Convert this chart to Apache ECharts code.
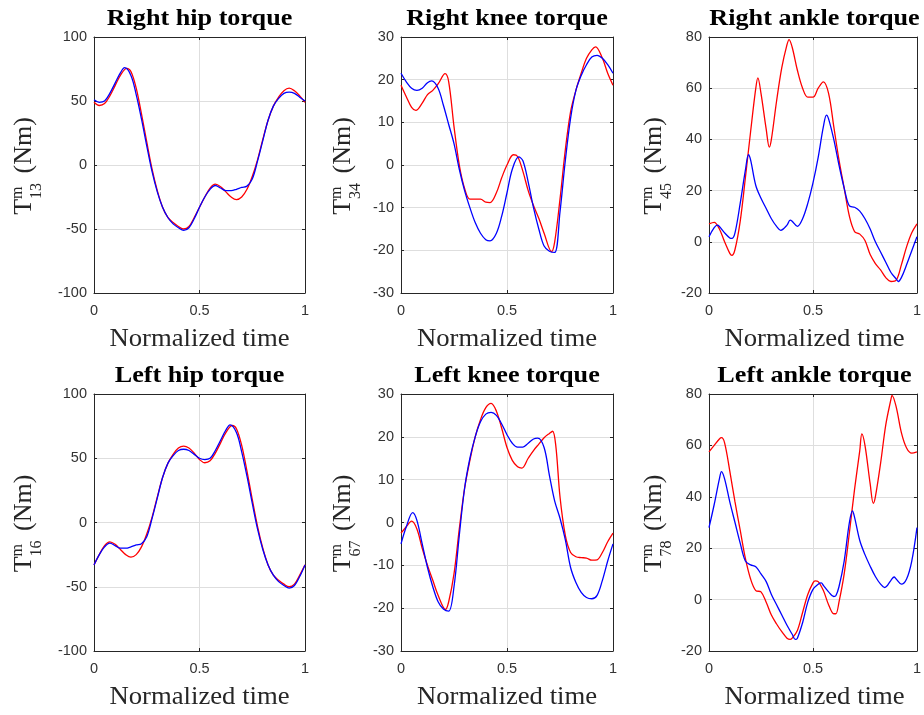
<!DOCTYPE html>
<html><head><meta charset="utf-8">
<script src="https://cdn.jsdelivr.net/npm/echarts@6/dist/echarts.min.js"></script>
<style>html,body{margin:0;padding:0;background:#fff}#c{width:924px;height:715px}</style>
</head><body><div id="c"></div>
<script>
// ---------- data ----------
const titles = ['Right hip torque', 'Right knee torque', 'Right ankle torque', 'Left hip torque', 'Left knee torque', 'Left ankle torque'];
const jointSubscripts = ['13', '34', '45', '16', '67', '78'];
const xAxisTitle = 'Normalized time';
const xTickValues = [0, 0.5, 1];
const yMins = [-100, -30, -20, -100, -30, -20];
const yMaxs = [100, 30, 80, 100, 30, 80];
const yIntervals = [50, 10, 20, 50, 10, 20];

const rightHipRed = [[0,49],[0.025,46.5],[0.05,48],[0.075,54],[0.1,62],[0.125,70],[0.155,75.5],[0.175,73],[0.2,60],[0.225,40],[0.25,18],[0.275,-3],[0.3,-20],[0.325,-33],[0.35,-41],[0.375,-45],[0.4,-48],[0.425,-50],[0.45,-48],[0.475,-41],[0.5,-33],[0.525,-25],[0.55,-18],[0.575,-15],[0.6,-17],[0.625,-21],[0.65,-25],[0.675,-27],[0.7,-25],[0.725,-19],[0.75,-9],[0.775,4],[0.8,20],[0.825,35],[0.85,46],[0.875,53],[0.9,58],[0.925,60],[0.95,58],[0.975,54],[1,49]];
const rightHipBlue = [[0,51],[0.025,49],[0.05,50],[0.075,56],[0.1,64],[0.125,72],[0.145,76],[0.175,70],[0.2,55],[0.225,36],[0.25,15],[0.275,-5],[0.3,-21],[0.325,-33],[0.35,-41],[0.375,-46],[0.4,-49],[0.425,-51],[0.45,-49],[0.475,-42],[0.5,-33],[0.525,-25],[0.55,-19],[0.575,-16],[0.6,-18],[0.625,-20],[0.65,-20],[0.675,-19],[0.7,-17.5],[0.725,-16.5],[0.75,-11],[0.775,3],[0.8,19],[0.825,35],[0.85,46],[0.875,52],[0.9,56],[0.925,57],[0.95,56],[0.975,53],[1,50]];

const rightKneeRed = [[0,18.7],[0.025,16],[0.05,13.5],[0.07,12.8],[0.1,14.5],[0.125,16.5],[0.15,17.5],[0.175,19],[0.208,21.4],[0.225,19.5],[0.25,9],[0.275,0],[0.3,-5.5],[0.325,-8],[0.35,-8],[0.375,-8],[0.4,-8.7],[0.42,-8.8],[0.45,-6.5],[0.475,-3],[0.5,0],[0.53,2.4],[0.55,2],[0.575,-1.5],[0.6,-6],[0.625,-9.5],[0.65,-12.5],[0.675,-16],[0.71,-20.3],[0.725,-18],[0.75,-8],[0.775,3.5],[0.8,12.5],[0.825,17.5],[0.85,21.5],[0.875,25],[0.9,27],[0.918,27.7],[0.95,25],[0.975,21.5],[1,18.7]];
const rightKneeBlue = [[0,21.5],[0.025,19.5],[0.05,18],[0.075,17.5],[0.1,18],[0.125,19.3],[0.145,19.7],[0.175,18],[0.2,14],[0.225,9.5],[0.25,5],[0.275,-1],[0.3,-6],[0.325,-10],[0.35,-13.5],[0.375,-16],[0.4,-17.5],[0.42,-17.8],[0.45,-16],[0.475,-12],[0.5,-6.5],[0.525,-1],[0.555,1.9],[0.575,1],[0.6,-4],[0.625,-10],[0.65,-15],[0.675,-19],[0.7,-20.2],[0.725,-20.5],[0.75,-11],[0.775,1],[0.8,11],[0.825,17.5],[0.85,21],[0.875,23.5],[0.9,25.3],[0.925,25.7],[0.95,25],[0.975,23.5],[1,21.5]];

const rightAnkleRed = [[0,7],[0.025,7.6],[0.05,5],[0.075,0],[0.1,-4.5],[0.11,-5.3],[0.125,-3],[0.15,8],[0.175,25],[0.2,43],[0.225,60],[0.235,64],[0.25,58],[0.275,44],[0.29,37],[0.3,40],[0.325,55],[0.35,68],[0.375,77],[0.385,79],[0.4,76],[0.425,67],[0.45,60],[0.475,56.5],[0.5,56.5],[0.525,60],[0.55,62.5],[0.575,58],[0.6,45],[0.625,32],[0.65,21],[0.675,10],[0.7,4],[0.725,3],[0.75,0.5],[0.775,-5],[0.8,-8.5],[0.825,-11],[0.85,-14],[0.875,-15.5],[0.9,-15],[0.925,-9],[0.95,-2],[0.975,3.5],[1,7]];
const rightAnkleBlue = [[0,2],[0.025,5.5],[0.04,6.5],[0.05,6],[0.075,3.5],[0.1,1.5],[0.11,1.3],[0.125,3.5],[0.15,15],[0.175,28],[0.19,34],[0.2,32],[0.225,22],[0.25,17],[0.275,13],[0.3,9],[0.325,6],[0.345,4.5],[0.375,6.5],[0.39,8.5],[0.4,8],[0.425,6],[0.45,9],[0.475,15],[0.5,23],[0.525,33],[0.55,45],[0.565,49.5],[0.575,48],[0.6,40],[0.625,30],[0.65,21],[0.675,14],[0.7,13.5],[0.725,12],[0.75,9],[0.775,5],[0.8,0],[0.825,-4],[0.85,-8],[0.875,-12],[0.9,-14.5],[0.91,-15.5],[0.925,-14],[0.95,-9],[0.975,-3.5],[1,2]];

const leftHipRed = [[0,-33],[0.025,-25],[0.05,-18],[0.075,-15],[0.1,-17],[0.125,-21],[0.15,-25],[0.175,-27],[0.2,-25],[0.225,-19],[0.25,-9],[0.275,4],[0.3,20],[0.325,35],[0.35,46],[0.375,53],[0.4,58],[0.425,59.5],[0.45,58],[0.475,54],[0.5,49],[0.525,46.5],[0.55,48],[0.575,54],[0.6,62],[0.625,70],[0.655,75.5],[0.675,73],[0.7,60],[0.725,40],[0.75,18],[0.775,-3],[0.8,-20],[0.825,-33],[0.85,-41],[0.875,-45],[0.9,-48],[0.925,-50],[0.95,-48],[0.975,-41],[1,-33]];
const leftHipBlue = [[0,-33],[0.025,-25],[0.05,-19],[0.075,-16],[0.1,-18],[0.125,-20],[0.15,-20],[0.175,-19],[0.2,-17.5],[0.225,-16.5],[0.25,-11],[0.275,3],[0.3,19],[0.325,35],[0.35,46],[0.375,52],[0.4,56],[0.425,57],[0.45,56],[0.475,53],[0.5,50],[0.525,49],[0.55,50],[0.575,56],[0.6,64],[0.625,72],[0.645,76],[0.675,70],[0.7,55],[0.725,36],[0.75,15],[0.775,-5],[0.8,-21],[0.825,-33],[0.85,-41],[0.875,-46],[0.9,-49],[0.925,-51],[0.95,-49],[0.975,-42],[1,-33]];

const leftKneeRed = [[0,-2.5],[0.025,-1],[0.05,0.3],[0.075,-1.5],[0.1,-6],[0.125,-10],[0.15,-13.5],[0.175,-17],[0.21,-20.3],[0.225,-18.5],[0.25,-12],[0.275,-1.5],[0.3,8],[0.325,14.5],[0.35,20],[0.375,24],[0.4,26.8],[0.425,27.8],[0.45,26],[0.475,22],[0.5,17.5],[0.525,14.5],[0.55,13],[0.57,12.7],[0.6,15],[0.625,16.8],[0.65,18.3],[0.675,19.8],[0.7,20.8],[0.715,21.3],[0.73,18],[0.75,6],[0.775,-3],[0.8,-7],[0.825,-8],[0.85,-8.2],[0.875,-8.3],[0.9,-8.8],[0.925,-8.7],[0.95,-7],[0.975,-4.5],[1,-2.5]];
const leftKneeBlue = [[0,-5],[0.025,-1],[0.055,2.3],[0.075,0.5],[0.1,-5],[0.125,-10.5],[0.15,-15],[0.175,-18.5],[0.2,-20.2],[0.225,-20.7],[0.25,-15],[0.275,-3],[0.3,8],[0.325,15],[0.35,20],[0.375,23.5],[0.4,25.3],[0.425,25.7],[0.45,25],[0.475,23],[0.5,20.5],[0.525,18.5],[0.55,17.6],[0.575,17.6],[0.6,18.5],[0.625,19.5],[0.645,19.7],[0.675,17.5],[0.7,11],[0.725,5],[0.75,1],[0.775,-4],[0.8,-10.5],[0.825,-14],[0.85,-16.3],[0.875,-17.5],[0.9,-17.8],[0.925,-17],[0.95,-13.5],[0.975,-9],[1,-5]];

const leftAnkleRed = [[0,57.5],[0.025,60],[0.05,62.5],[0.06,63],[0.075,61],[0.1,50],[0.125,38],[0.15,27],[0.175,16],[0.2,8],[0.225,3.5],[0.25,3],[0.275,-1],[0.3,-6],[0.325,-9.5],[0.35,-12.5],[0.375,-15],[0.39,-15.5],[0.4,-15],[0.425,-12],[0.45,-5],[0.475,2],[0.5,6.5],[0.51,7.3],[0.525,7],[0.55,3.5],[0.575,-2],[0.6,-5.5],[0.61,-5.5],[0.625,-1],[0.65,10],[0.675,26],[0.7,43],[0.725,58],[0.735,64.5],[0.75,60],[0.775,45],[0.79,37.5],[0.8,40],[0.825,53],[0.85,68],[0.875,78],[0.88,79.5],[0.9,75],[0.925,65],[0.95,59],[0.975,57],[1,57.5]];
const leftAnkleBlue = [[0,28],[0.025,37],[0.05,47],[0.06,49.8],[0.075,47],[0.1,38],[0.125,30],[0.15,22],[0.175,15],[0.2,13.5],[0.225,12.8],[0.25,10],[0.275,7],[0.3,2],[0.325,-2],[0.35,-6],[0.375,-10],[0.4,-13.5],[0.415,-15.5],[0.425,-15],[0.45,-9],[0.475,-1],[0.5,4],[0.525,6],[0.54,6.5],[0.55,5.5],[0.575,3],[0.6,1.2],[0.61,1.5],[0.625,5],[0.65,15],[0.675,30],[0.69,34.5],[0.7,32],[0.725,23],[0.75,17.5],[0.775,13],[0.8,9],[0.825,6],[0.845,4.7],[0.875,7.5],[0.89,8.8],[0.9,8],[0.925,6],[0.95,8],[0.975,15],[1,28]];

const redSeries = [rightHipRed, rightKneeRed, rightAnkleRed, leftHipRed, leftKneeRed, leftAnkleRed];
const blueSeries = [rightHipBlue, rightKneeBlue, rightAnkleBlue, leftHipBlue, leftKneeBlue, leftAnkleBlue];

// ---------- layout ----------
const colLeft = [94, 401, 709];
const colWidth = [211, 212, 211];
const rowTop = [37, 394];
const rowHeight = [256, 257];
const yLabelOffset = [70, 58, 55];
const AX = '#262626';
const GRID = '#dedede';
const SERIF = "'Liberation Serif','Times New Roman',serif";
const SANS = "'Liberation Sans',Arial,Helvetica,sans-serif";

const chart = echarts.init(document.getElementById('c'), null, {renderer: 'canvas'});
const grids = [], xAxes = [], yAxes = [], series = [], graphics = [];

for (let i = 0; i < 6; i++) {
  const r = Math.floor(i / 3), c = i % 3;
  const L = colLeft[c], T = rowTop[r], W = colWidth[c], H = rowHeight[r];
  grids.push({left: L, top: T, width: W, height: H, containLabel: false});
  const tick = {show: true, inside: true, length: 3, lineStyle: {color: AX, width: 1}};
  const line = {show: true, onZero: false, lineStyle: {color: AX, width: 1}};
  xAxes.push({
    gridIndex: i, type: 'value', position: 'bottom', min: xTickValues[0], max: xTickValues[xTickValues.length - 1],
    interval: xTickValues[1] - xTickValues[0],
    axisLine: line, axisTick: tick,
    axisLabel: {show: true, margin: 10, color: '#333', fontFamily: SANS, fontSize: 14.5},
    splitLine: {show: true, lineStyle: {color: GRID, width: 1}}
  });
  xAxes.push({
    gridIndex: i, type: 'value', position: 'top', min: xTickValues[0], max: xTickValues[xTickValues.length - 1],
    interval: xTickValues[1] - xTickValues[0],
    axisLine: line, axisTick: tick, axisLabel: {show: false}, splitLine: {show: false}
  });
  yAxes.push({
    gridIndex: i, type: 'value', position: 'left', min: yMins[i], max: yMaxs[i], interval: yIntervals[i],
    axisLine: line, axisTick: tick,
    axisLabel: {show: true, margin: 7, color: '#333', fontFamily: SANS, fontSize: 14.5},
    splitLine: {show: true, lineStyle: {color: GRID, width: 1}}
  });
  yAxes.push({
    gridIndex: i, type: 'value', position: 'right', min: yMins[i], max: yMaxs[i], interval: yIntervals[i],
    axisLine: line, axisTick: tick, axisLabel: {show: false}, splitLine: {show: false}
  });
  series.push({
    type: 'line', xAxisIndex: 2 * i, yAxisIndex: 2 * i, data: redSeries[i], showSymbol: false, smooth: 0.35,
    lineStyle: {color: '#ff0000', width: 1.3}, itemStyle: {color: '#ff0000'}, silent: true, animation: false
  });
  series.push({
    type: 'line', xAxisIndex: 2 * i, yAxisIndex: 2 * i, data: blueSeries[i], showSymbol: false, smooth: 0.35,
    lineStyle: {color: '#0000ff', width: 1.3}, itemStyle: {color: '#0000ff'}, silent: true, animation: false
  });
  // title (slightly widened like the reference)
  graphics.push({
    type: 'text', x: L + W / 2, y: T - 18, scaleX: 1.09, silent: true,
    style: {text: titles[i], font: 'bold 24px ' + SERIF, fill: '#000', textAlign: 'center', textVerticalAlign: 'middle', align: 'center', verticalAlign: 'middle'}
  });
  // x-axis name
  graphics.push({
    type: 'text', x: L + W / 2, y: T + H + 47, scaleX: 1.09, silent: true,
    style: {text: xAxisTitle, font: '24.5px ' + SERIF, fill: AX, textAlign: 'center', textVerticalAlign: 'middle', align: 'center', verticalAlign: 'middle'}
  });
  // y-axis label  T^m_sub (Nm), rotated
  const big = 26, small = 16, gap = 3;
  const wT = 0.611 * big, wSub = 0.5 * small * jointSubscripts[i].length, wRest = 2.416 * big;
  const x0 = -(wT + wSub + gap + wRest) / 2 - 1;
  const mk = (txt, x, y, size) => ({
    type: 'text', x: x, y: y,
    style: {text: txt, font: size + 'px ' + SERIF, fill: AX, textAlign: 'left', textVerticalAlign: 'middle', align: 'left', verticalAlign: 'middle'}
  });
  graphics.push({
    type: 'group', x: L - yLabelOffset[c], y: T + H / 2, rotation: Math.PI / 2, silent: true,
    children: [
      mk('T', x0, 0, big),
      mk('m', x0 + wT, -6.5, small),
      mk(jointSubscripts[i], x0 + wT, 13, small),
      mk('(Nm)', x0 + wT + wSub + gap + 0.25 * big, 0, big)
    ]
  });
}

chart.setOption({
  backgroundColor: '#fff',
  animation: false,
  grid: grids,
  xAxis: xAxes,
  yAxis: yAxes,
  series: series,
  graphic: graphics
});
</script></body></html>
